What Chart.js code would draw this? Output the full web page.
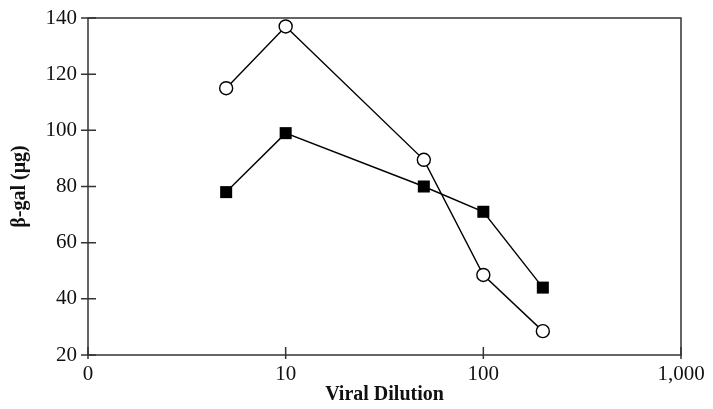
<!DOCTYPE html>
<html><head><meta charset="utf-8">
<script src="https://cdn.jsdelivr.net/npm/chart.js@4/dist/chart.umd.min.js"></script>
<style>html,body{margin:0;padding:0;background:#fff}#wrap{width:713px;height:409px}</style>
</head><body><div id="wrap"><canvas id="c" width="713" height="409"></canvas></div>
<script>
const dilutions = [5, 10, 50, 100, 200];
const openCircleSeries = [115, 137, 89.5, 48.5, 28.5];
const filledSquareSeries = [78, 99, 80, 71, 44];
const xTickValues = [1, 10, 100, 1000];
const xTickLabels = ['0', '10', '100', '1,000'];
const yTickValues = [20, 40, 60, 80, 100, 120, 140];

const FONT = '"Liberation Serif", "DejaVu Serif", serif';
const AXIS = '#333';

const frame = {
  id: 'frame',
  afterDraw(chart) {
    const {ctx, chartArea: a, scales} = chart;
    ctx.save();
    ctx.strokeStyle = AXIS;
    ctx.lineWidth = 1.5;
    ctx.strokeRect(a.left, a.top, a.right - a.left, a.bottom - a.top);
    ctx.beginPath();
    yTickValues.forEach(v => {
      const y = scales.y.getPixelForValue(v);
      ctx.moveTo(a.left - 7, y); ctx.lineTo(a.left + 8, y);
    });
    xTickValues.forEach(v => {
      const x = scales.x.getPixelForValue(v);
      ctx.moveTo(x, a.bottom + 4); ctx.lineTo(x, a.bottom - 8);
    });
    ctx.stroke();
    ctx.restore();
  }
};

new Chart(document.getElementById('c'), {
  type: 'line',
  data: {
    datasets: [
      {
        label: 'open',
        data: dilutions.map((x, i) => ({x, y: openCircleSeries[i]})),
        borderColor: '#000', borderWidth: 1.4,
        pointStyle: 'circle', pointRadius: 6.5,
        pointBackgroundColor: '#fff', pointBorderColor: '#000', pointBorderWidth: 1.4,
        tension: 0
      },
      {
        label: 'filled',
        data: dilutions.map((x, i) => ({x, y: filledSquareSeries[i]})),
        borderColor: '#000', borderWidth: 1.4,
        pointStyle: 'rect', pointRadius: 8.5,
        pointBackgroundColor: '#000', pointBorderColor: '#000', pointBorderWidth: 0,
        tension: 0
      }
    ]
  },
  options: {
    responsive: false,
    animation: false,
    layout: {padding: {top: 18, right: 32, left: 0, bottom: 0}},
    plugins: {legend: {display: false}, tooltip: {enabled: false}},
    scales: {
      x: {
        type: 'logarithmic', min: 1, max: 1000,
        afterBuildTicks(s) { s.ticks = xTickValues.map(v => ({value: v})); },
        afterFit(s) { s.height = 54; s.paddingLeft = 0; s.paddingRight = 0; },
        grid: {display: false, drawTicks: false},
        border: {display: false},
        ticks: {
          padding: 7, color: '#111',
          font: {family: FONT, size: 21},
          autoSkip: false, maxRotation: 0,
          callback: (v) => { const i = xTickValues.indexOf(v); return i >= 0 ? xTickLabels[i] : ''; }
        },
        title: {display: true, text: 'Viral Dilution', color: '#111',
          font: {family: FONT, size: 20, weight: 'bold'}, padding: {top: 0, bottom: 2}}
      },
      y: {
        min: 20, max: 140,
        afterBuildTicks(s) { s.ticks = yTickValues.map(v => ({value: v})); },
        afterFit(s) { s.width = 88; s.paddingTop = 0; s.paddingBottom = 0; },
        grid: {display: false, drawTicks: false},
        border: {display: false},
        ticks: {padding: 11, color: '#111', font: {family: FONT, size: 21}},
        title: {display: true, text: 'β-gal (μg)', color: '#111',
          font: {family: FONT, size: 20, weight: 'bold'}, padding: {top: 8, bottom: 0}}
      }
    }
  },
  plugins: [frame]
});
</script></body></html>
